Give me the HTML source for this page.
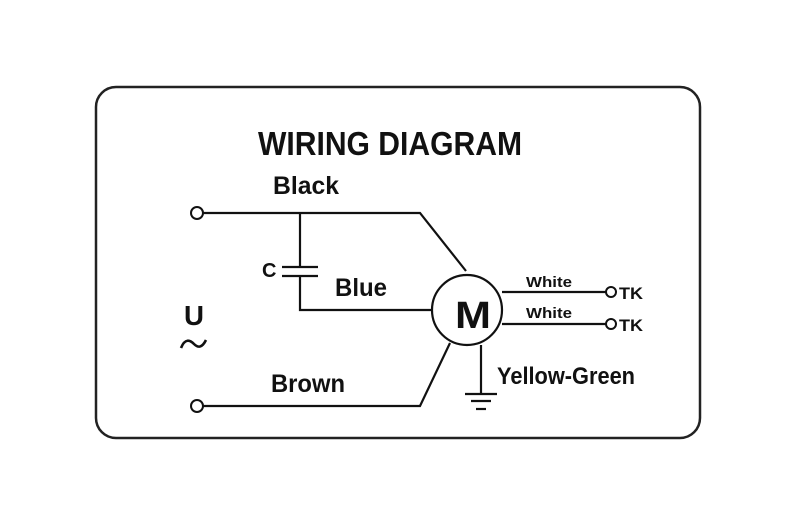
<!DOCTYPE html>
<html><head><style>html,body{margin:0;padding:0;background:#fff;}svg{display:block}</style></head><body>
<svg width="800" height="530" viewBox="0 0 800 530" xmlns="http://www.w3.org/2000/svg" font-family="'Liberation Sans Narrow','Liberation Sans',sans-serif" font-weight="bold" fill="#111">
<rect x="96" y="87" width="604" height="351" rx="20" fill="none" stroke="#222" stroke-width="2.5"/>
<text x="258" y="155" font-size="33" textLength="264" lengthAdjust="spacingAndGlyphs">WIRING DIAGRAM</text>
<g stroke="#111" stroke-width="2.2" fill="none">
<circle cx="197" cy="213" r="6" stroke-width="2"/>
<circle cx="197" cy="406" r="6" stroke-width="2"/>
<polyline points="203,213 420,213 466,271"/>
<polyline points="300,213 300,267"/>
<line x1="282" y1="267" x2="318" y2="267"/>
<line x1="282" y1="276" x2="318" y2="276"/>
<polyline points="300,276 300,310 432,310"/>
<polyline points="203,406 420,406 450,343"/>
<circle cx="467" cy="310" r="35"/>
<line x1="502" y1="292" x2="606" y2="292"/>
<line x1="502" y1="324" x2="606" y2="324"/>
<circle cx="611" cy="292" r="5" stroke-width="2"/>
<circle cx="611" cy="324" r="5" stroke-width="2"/>
<line x1="481" y1="345" x2="481" y2="394"/>
<line x1="465" y1="394" x2="497" y2="394"/>
<line x1="471" y1="401" x2="491" y2="401"/>
<line x1="476" y1="409" x2="486" y2="409"/>
<path d="M181,348 C185,338 190,340 194,344 C198,348 202,348 206,340" stroke-width="2.6"/>
</g>
<text x="273" y="194" font-size="25" textLength="66" lengthAdjust="spacingAndGlyphs">Black</text>
<text x="262" y="277" font-size="20">C</text>
<text x="335" y="296" font-size="25" textLength="52" lengthAdjust="spacingAndGlyphs">Blue</text>
<text x="271" y="392" font-size="25" textLength="74" lengthAdjust="spacingAndGlyphs">Brown</text>
<text x="455" y="328" font-size="38" textLength="36" lengthAdjust="spacingAndGlyphs">M</text>
<text x="526" y="287" font-size="15" textLength="46" lengthAdjust="spacingAndGlyphs">White</text>
<text x="526" y="318" font-size="15" textLength="46" lengthAdjust="spacingAndGlyphs">White</text>
<text x="619" y="299" font-size="17" textLength="24" lengthAdjust="spacingAndGlyphs">TK</text>
<text x="619" y="331" font-size="17" textLength="24" lengthAdjust="spacingAndGlyphs">TK</text>
<text x="497" y="384" font-size="24" textLength="138" lengthAdjust="spacingAndGlyphs">Yellow-Green</text>
<text x="184" y="325" font-size="28" textLength="20" lengthAdjust="spacingAndGlyphs">U</text>
</svg>
</body></html>
